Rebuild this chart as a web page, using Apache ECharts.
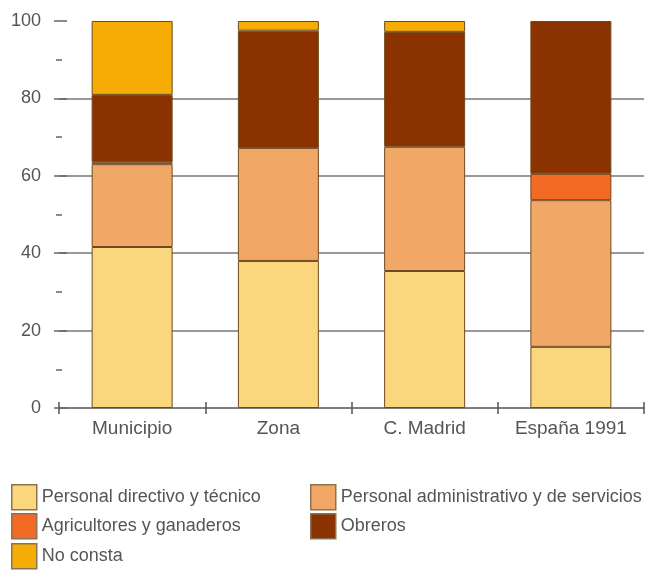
<!DOCTYPE html>
<html><head><meta charset="utf-8">
<script src="https://cdn.jsdelivr.net/npm/echarts@6/dist/echarts.min.js"></script>
<style>html,body{margin:0;padding:0;background:#fff}#c{width:646px;height:585px}</style>
</head><body><div id="c"></div>
<script>
const categories = ['Municipio', 'Zona', 'C. Madrid', 'España 1991'];
const directivo = [41.6, 38.0, 35.4, 15.8];
const administrativo = [21.4, 29.2, 32.1, 37.9];
const agricultores = [0.5, 0, 0, 6.8];
const obreros = [17.4, 30.3, 29.7, 39.5];
const noConsta = [19.1, 2.5, 2.8, 0];
const seriesNames = ['Personal directivo y técnico', 'Personal administrativo y de servicios', 'Agricultores y ganaderos', 'Obreros', 'No consta'];
const seriesValues = [directivo, administrativo, agricultores, obreros, noConsta];
const colors = ['#FAD77C', '#F1A867', '#F26A24', '#8A3200', '#F5AC05'];
const yTicks = [0, 20, 40, 60, 80, 100];

const chart = echarts.init(document.getElementById('c'), null, {renderer: 'canvas'});
const font = 'Arial, "Liberation Sans", sans-serif';
const legendPos = [[11, 484], [310, 484], [11, 513], [310, 513], [11, 543]];

const option = {
  backgroundColor: '#fff',
  animation: false,
  grid: {left: 59, right: 2, top: 21, bottom: 177},
  legend: seriesNames.map((n, i) => ({
    data: [n], left: legendPos[i][0], top: legendPos[i][1],
    itemWidth: 25, itemHeight: 25, itemGap: 4, padding: 0,
    icon: 'rect',
    itemStyle: {borderColor: '#8A7350', borderWidth: 1.5},
    textStyle: {fontFamily: font, fontSize: 18, color: '#555', padding: [5, 0, 0, 0]}
  })),
  xAxis: [{
    type: 'category', data: categories, boundaryGap: true,
    axisLine: {lineStyle: {color: '#555', width: 1.5}},
    axisTick: {show: true, alignWithLabel: false, length: 6, lineStyle: {color: '#555', width: 1.5}},
    axisLabel: {fontFamily: font, fontSize: 19, color: '#555', margin: 11}
  }, {
    type: 'category', data: categories, boundaryGap: true, position: 'bottom',
    axisLine: {show: false},
    axisTick: {show: true, inside: true, alignWithLabel: false, length: 6, lineStyle: {color: '#555', width: 1.5}},
    axisLabel: {show: false}
  }],
  yAxis: [{
    type: 'value', min: 0, max: 100, interval: 20,
    axisLine: {show: false},
    axisTick: {show: true, length: 5, lineStyle: {color: '#666', width: 1.5}},
    minorTick: {show: true, splitNumber: 2, length: 3, lineStyle: {color: '#666', width: 1.5}},
    splitLine: {show: true, lineStyle: {color: ['rgba(0,0,0,0)', '#777', '#777', '#777', '#777', 'rgba(0,0,0,0)'], width: 1.5}},
    axisLabel: {fontFamily: font, fontSize: 18, color: '#555', margin: 18,
      formatter: v => yTicks.includes(v) ? String(v) : ''}
  }, {
    type: 'value', min: 0, max: 100, interval: 20, position: 'left',
    axisLine: {show: false},
    axisTick: {show: true, inside: true, length: 8, lineStyle: {color: '#666', width: 1.5}},
    minorTick: {show: true, splitNumber: 2, length: 3, lineStyle: {color: '#666', width: 1.5}},
    splitLine: {show: false},
    axisLabel: {show: false}
  }],
  series: seriesNames.map((n, i) => ({
    name: n, type: 'bar', stack: 'total', barWidth: 81,
    data: seriesValues[i].map(v => v === 0 ? '-' : v),
    itemStyle: {color: colors[i], borderColor: '#6E4A22', borderWidth: 1},
    emphasis: {disabled: true}
  }))
};
chart.setOption(option);
</script>
</body></html>
